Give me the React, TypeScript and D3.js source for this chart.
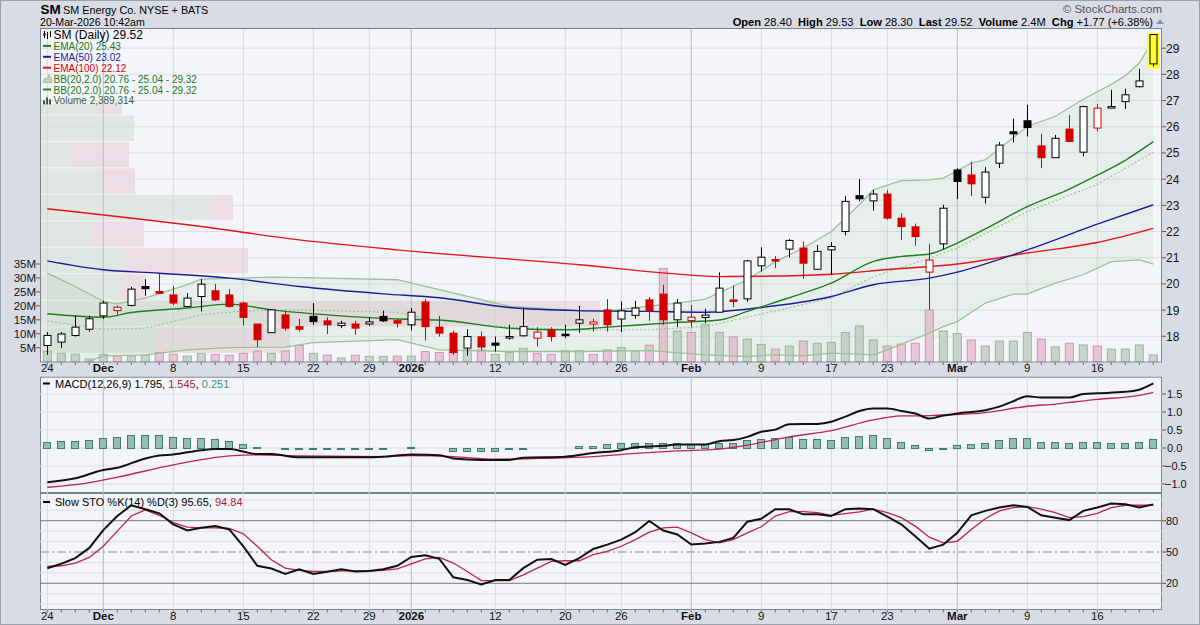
import { useEffect, useRef } from 'react';
import * as d3 from 'd3';

// Trading sessions Nov 24 2025 .. Mar 20 2026, indexed 0..79
const dateTicks = [
  { i: 0, label: '24', month: false },
  { i: 4, label: 'Dec', month: true },
  { i: 9, label: '8', month: false },
  { i: 14, label: '15', month: false },
  { i: 19, label: '22', month: false },
  { i: 23, label: '29', month: false },
  { i: 26, label: '2026', month: true },
  { i: 32, label: '12', month: false },
  { i: 37, label: '20', month: false },
  { i: 41, label: '26', month: false },
  { i: 46, label: 'Feb', month: true },
  { i: 51, label: '9', month: false },
  { i: 56, label: '17', month: false },
  { i: 60, label: '23', month: false },
  { i: 65, label: 'Mar', month: true },
  { i: 70, label: '9', month: false },
  { i: 75, label: '16', month: false },
];

const prevClose = 17.5;
const opens = [
  17.65, 17.78, 18.03, 18.27, 18.78, 18.98, 19.18, 19.9, 19.71, 19.58,
  19.14, 19.52, 19.74, 19.58, 19.27, 18.47, 18.14, 18.82, 18.37, 18.76,
  18.59, 18.41, 18.47, 18.47, 18.76, 18.6, 18.44, 19.31, 18.35, 18.12,
  17.55, 17.98, 17.74, 17.95, 18.02, 17.93, 18.25, 18.08, 18.5, 18.47,
  19.01, 18.66, 18.8, 19.39, 19.61, 18.63, 18.6, 18.72, 18.92, 19.39,
  19.43, 20.69, 20.93, 21.33, 21.37, 20.56, 21.3, 22.0, 23.37, 23.17,
  23.43, 22.51, 22.18, 20.45, 21.53, 24.35, 24.16, 23.31, 24.61, 25.81,
  26.23, 25.27, 24.82, 25.91, 25.03, 25.95, 26.72, 26.96, 27.53, 28.4,
];
const highs = [
  18.16, 18.16, 18.78, 18.79, 19.36, 19.17, 19.89, 20.18, 20.41, 19.93,
  19.65, 20.18, 20.0, 19.8, 19.33, 18.47, 19.01, 18.95, 18.67, 19.27,
  18.73, 18.59, 18.59, 18.72, 18.98, 18.66, 19.08, 19.42, 18.78, 18.22,
  18.27, 18.18, 17.99, 18.44, 19.1, 18.35, 18.35, 18.44, 19.16, 18.67,
  19.42, 19.33, 19.36, 19.5, 19.97, 19.42, 19.2, 19.05, 20.44, 19.93,
  20.92, 21.4, 21.07, 21.71, 21.62, 21.49, 21.6, 23.36, 24.0, 23.59,
  23.59, 22.7, 22.3, 21.53, 23.02, 24.42, 24.67, 24.46, 25.42, 26.31,
  26.84, 25.73, 25.69, 26.45, 26.8, 26.87, 27.41, 27.45, 28.21, 29.53,
];
const lows = [
  17.29, 17.55, 17.99, 18.18, 18.66, 18.82, 19.14, 19.55, 19.62, 19.18,
  19.1, 18.95, 19.35, 19.1, 18.41, 17.59, 18.14, 18.22, 18.18, 18.44,
  18.09, 18.31, 18.06, 18.4, 18.55, 18.34, 18.22, 17.84, 17.99, 17.29,
  17.26, 17.45, 17.42, 17.87, 17.99, 17.61, 17.8, 17.93, 18.14, 18.18,
  18.18, 18.16, 18.67, 18.59, 18.44, 18.35, 18.35, 18.5, 18.92, 19.11,
  19.32, 20.47, 20.6, 21.01, 20.19, 20.54, 20.35, 21.85, 23.15, 22.8,
  22.45, 21.68, 21.46, 19.01, 21.33, 23.24, 23.36, 23.07, 24.42, 25.4,
  25.63, 24.42, 24.82, 25.44, 24.87, 25.82, 26.72, 26.68, 27.5, 28.3,
];
const closes = [
  18.03, 18.09, 18.35, 18.67, 19.27, 19.11, 19.8, 19.82, 19.64, 19.27,
  19.46, 19.99, 19.39, 19.14, 18.72, 17.87, 19.01, 18.31, 18.27, 18.56,
  18.44, 18.5, 18.31, 18.55, 18.59, 18.5, 18.92, 18.37, 18.12, 17.38,
  17.99, 17.59, 17.66, 17.99, 18.37, 18.16, 17.99, 18.04, 18.63, 18.55,
  18.44, 18.97, 19.08, 18.97, 18.63, 19.27, 18.73, 18.81, 19.84, 19.33,
  20.88, 21.02, 20.9, 21.66, 20.79, 21.24, 21.43, 23.15, 23.25, 23.43,
  22.51, 22.19, 21.81, 20.91, 22.89, 23.91, 23.82, 24.27, 25.3, 25.73,
  25.97, 24.82, 25.56, 25.44, 26.77, 26.71, 26.77, 27.22, 27.75, 29.52,
];
// volume in millions
const volumes = [
  3.8, 3.0, 2.7, 1.0, 2.6, 2.0, 2.0, 2.3, 3.3, 2.7,
  2.0, 3.0, 2.6, 2.3, 3.0, 3.8, 3.0, 3.8, 5.8, 3.0,
  2.3, 1.3, 2.3, 1.9, 1.9, 2.0, 2.0, 3.6, 3.3, 4.5,
  4.2, 4.2, 2.6, 3.3, 4.8, 3.0, 2.6, 3.9, 3.9, 2.6,
  4.2, 5.1, 3.8, 5.9, 33.4, 11.0, 10.5, 13.4, 10.5, 8.9,
  8.1, 6.2, 4.5, 5.6, 7.4, 6.6, 6.9, 10.5, 12.8, 7.8,
  5.6, 6.3, 6.6, 18.5, 11.0, 10.1, 7.8, 5.6, 7.4, 7.4,
  10.5, 8.1, 5.3, 6.6, 6.0, 5.6, 4.5, 4.5, 6.0, 2.39,
];

// Volume-by-price zones (price edges), up / down volume in millions
const vbpEdges = [17.35, 18.36, 19.37, 20.39, 21.4, 22.41, 23.42, 24.43, 25.44, 26.45, 27.46];
const vbpUp = [11.6, 21.9, 8.1, 8.5, 5.2, 17.0, 6.4, 2.9, 9.4, 6.0];
const vbpDown = [13.4, 34.1, 2.5, 12.3, 5.2, 2.3, 3.1, 6.0, 0, 2.2];

// Overlays: [session index, value]
const ema20 = [[0, 18.86], [4, 18.73], [6, 18.91], [10, 19.08], [13, 19.23], [16, 19.01], [20, 18.82], [25, 18.66], [28, 18.62], [33, 18.31], [37, 18.25], [40, 18.35], [45, 18.53], [48, 18.62], [50, 18.95], [52, 19.3], [54, 19.65], [56, 20.03], [59, 20.86], [61, 21.05], [63, 21.14], [65, 21.56], [67, 22.1], [70, 22.95], [73, 23.62], [75, 24.15], [77, 24.72], [79, 25.43]];
const ema50 = [[0, 20.88], [4, 20.54], [8, 20.41], [13, 20.22], [18, 19.9], [24, 19.62], [28, 19.47], [33, 19.1], [38, 18.98], [43, 18.95], [47, 18.92], [51, 19.1], [56, 19.52], [59, 19.97], [63, 20.22], [65, 20.45], [70, 21.3], [75, 22.28], [79, 23.02]];
const ema100 = [[0, 22.87], [11, 22.19], [18, 21.68], [25, 21.3], [38, 20.73], [44, 20.42], [48, 20.28], [52, 20.3], [56, 20.37], [60, 20.55], [65, 20.76], [70, 21.18], [75, 21.58], [79, 22.12]];
const bbUpper = [[0, 20.41], [2, 19.9], [4, 19.33], [5, 19.24], [7, 19.46], [10, 19.97], [11, 20.18], [16, 20.26], [20, 20.22], [25, 20.16], [28, 19.78], [33, 19.14], [38, 18.97], [40, 18.97], [45, 19.27], [47, 19.42], [50, 20.16], [52, 20.85], [54, 21.37], [56, 22.0], [58, 23.02], [59, 23.59], [61, 23.94], [63, 23.97], [64, 24.04], [66, 24.61], [67, 24.74], [70, 26.01], [72, 26.4], [74, 27.05], [76, 27.62], [77, 27.95], [78, 28.43], [79, 29.32]];
const bbMiddle = [[0, 18.59], [4, 18.27], [7, 18.31], [11, 18.82], [14, 18.97], [18, 19.01], [25, 18.91], [28, 18.6], [33, 18.35], [38, 18.25], [43, 18.25], [47, 18.37], [51, 18.85], [56, 19.46], [59, 20.28], [63, 20.98], [65, 21.37], [70, 22.76], [75, 23.8], [79, 25.04]];
const bbLower = [[0, 16.77], [2, 16.7], [3, 17.05], [4, 17.25], [7, 17.29], [10, 17.48], [13, 17.57], [17, 17.59], [19, 17.76], [25, 17.87], [28, 17.48], [33, 17.42], [38, 17.42], [43, 17.45], [47, 17.29], [50, 17.23], [52, 17.29], [54, 17.25], [56, 17.36], [59, 17.29], [60, 17.48], [63, 18.12], [64, 18.37], [65, 18.56], [67, 19.27], [69, 19.61], [70, 19.61], [72, 20.03], [74, 20.35], [76, 20.85], [78, 20.92], [79, 20.76]];

const macdLine = [[0, -0.95], [2, -0.84], [4, -0.61], [5, -0.55], [7, -0.29], [8, -0.21], [9, -0.18], [11, -0.06], [12, -0.03], [13, -0.03], [14, -0.1], [15, -0.17], [16, -0.17], [18, -0.26], [23, -0.26], [25, -0.21], [26, -0.18], [28, -0.2], [29, -0.29], [31, -0.33], [33, -0.33], [34, -0.27], [37, -0.24], [39, -0.14], [41, -0.06], [42, 0.02], [44, 0.06], [45, 0.1], [47, 0.1], [48, 0.19], [49, 0.22], [50, 0.31], [51, 0.45], [52, 0.51], [53, 0.66], [55, 0.67], [56, 0.73], [57, 0.87], [58, 1.03], [59, 1.1], [60, 1.1], [61, 1.03], [62, 0.96], [63, 0.82], [64, 0.9], [65, 0.96], [67, 1.05], [68, 1.15], [69, 1.3], [70, 1.44], [71, 1.4], [73, 1.4], [74, 1.5], [75, 1.52], [77, 1.56], [78, 1.62], [79, 1.795]];
const macdSignal = [[0, -1.09], [2, -1.02], [3, -0.96], [5, -0.81], [9, -0.47], [13, -0.22], [15, -0.19], [18, -0.22], [24, -0.24], [26, -0.21], [29, -0.24], [32, -0.31], [35, -0.29], [39, -0.24], [42, -0.15], [45, -0.08], [48, -0.03], [50, 0.08], [53, 0.31], [56, 0.48], [59, 0.78], [61, 0.89], [63, 0.9], [67, 0.98], [70, 1.16], [72, 1.22], [75, 1.35], [78, 1.46], [79, 1.545]];
const macdHist = [
  0.16, 0.19, 0.19, 0.22, 0.27, 0.3, 0.35, 0.35, 0.35, 0.3,
  0.27, 0.27, 0.24, 0.19, 0.1, 0.02, -0.01, -0.02, -0.04, -0.04,
  -0.04, -0.04, -0.04, -0.02, -0.02, -0.01, 0.02, 0.01, -0.01, -0.07,
  -0.07, -0.07, -0.07, -0.04, -0.02, -0.01, -0.01, 0.01, 0.06, 0.06,
  0.1, 0.13, 0.13, 0.13, 0.13, 0.13, 0.1, 0.1, 0.13, 0.13,
  0.21, 0.24, 0.27, 0.3, 0.24, 0.24, 0.21, 0.3, 0.32, 0.35,
  0.27, 0.18, 0.07, -0.06, -0.02, 0.07, 0.1, 0.13, 0.21, 0.27,
  0.27, 0.18, 0.18, 0.13, 0.16, 0.16, 0.13, 0.13, 0.16, 0.251,
];

const stoK = [
  34.5, 38.7, 44.2, 53.9, 71.0, 84.5, 94.8, 91.0, 87.1, 76.5,
  70.6, 73.2, 74.8, 71.6, 55.5, 36.8, 34.2, 29.0, 33.5, 29.0,
  31.0, 33.5, 31.3, 31.9, 33.5, 36.8, 45.2, 46.8, 43.5, 25.8,
  23.2, 19.0, 23.2, 23.2, 34.5, 42.6, 43.2, 37.7, 44.2, 52.9,
  57.1, 61.9, 69.0, 79.7, 70.6, 66.8, 57.1, 58.1, 59.7, 63.5,
  79.0, 81.9, 91.0, 91.0, 86.1, 86.1, 84.5, 91.0, 91.6, 91.0,
  83.9, 76.5, 65.2, 53.2, 57.1, 68.4, 85.2, 89.4, 92.6, 94.8,
  93.2, 85.2, 82.9, 80.6, 89.4, 92.6, 96.5, 95.8, 92.6, 95.65,
];
const stoD = [
  36.1, 36.8, 39.4, 44.8, 55.5, 70.0, 84.5, 90.3, 85.2, 78.1,
  73.9, 73.2, 73.2, 72.6, 67.4, 55.5, 42.6, 34.5, 32.3, 31.3,
  31.3, 31.9, 31.9, 31.9, 32.3, 33.9, 38.7, 43.5, 44.8, 39.4,
  31.3, 22.6, 22.6, 22.6, 28.1, 34.5, 41.0, 41.6, 41.6, 47.4,
  50.6, 55.5, 61.9, 69.0, 73.2, 73.9, 68.4, 61.9, 58.7, 61.9,
  68.4, 74.2, 84.5, 88.7, 88.7, 87.7, 85.2, 86.8, 88.4, 91.0,
  87.7, 82.9, 74.8, 64.2, 58.7, 60.3, 71.6, 81.9, 89.4, 92.6,
  93.5, 91.0, 87.7, 82.9, 83.9, 87.1, 92.6, 94.8, 94.8, 94.84,
];

const headerStats = [
  ['Open', '28.40'], ['High', '29.53'], ['Low', '28.30'],
  ['Last', '29.52'], ['Volume', '2.4M'], ['Chg', '+1.77 (+6.38%)'],
];

const W = 1200;
const H = 625;
const L = 40;
const R = 1162;
const P = { top: 28, bottom: 362.5 };
const M = { top: 376.7, bottom: 493 };
const S = { top: 493, bottom: 610 };

const App = () => {
  const svgRef = useRef<SVGSVGElement>(null);

  useEffect(() => {
    if (!svgRef.current) return;
    const svg = d3.select(svgRef.current);
    svg.selectAll('*').remove();
    svg.attr('font-family', '"Liberation Sans", Arial, Helvetica, sans-serif');

    const xS = d3.scaleLinear().domain([0, 79]).range([47.3, 1153.3]);
    const yP = d3.scaleLinear().domain([17.0, 29.77]).range([P.bottom, P.top]);
    const yV = d3.scaleLinear().domain([0, 35]).range([361.7, 264]);
    const yM = d3.scaleLinear().domain([-1, 1.5]).range([484, 394]);
    const yS = d3.scaleLinear().domain([20, 80]).range([583.3, 520.7]);
    const xVbp = d3.scaleLinear().domain([0, 56]).range([L, 600]);

    // page + panels
    svg.append('rect').attr('width', W).attr('height', H).attr('fill', '#d9dce5');
    svg.append('rect').attr('x', 0.5).attr('y', 0.5).attr('width', W - 1).attr('height', H - 1)
      .attr('fill', 'none').attr('stroke', '#9ba1ac');
    [P, M, S].forEach(p => {
      svg.append('rect').attr('x', L).attr('y', p.top).attr('width', R - L)
        .attr('height', p.bottom - p.top).attr('fill', '#f4f5f9');
    });

    const defs = svg.append('defs');
    const clip = (id: string, p: { top: number; bottom: number }) => {
      defs.append('clipPath').attr('id', id).append('rect')
        .attr('x', L).attr('y', p.top).attr('width', R - L).attr('height', p.bottom - p.top);
    };
    clip('clipP', P);
    clip('clipM', M);
    clip('clipS', S);

    // ---------- price panel ----------
    const gp = svg.append('g').attr('clip-path', 'url(#clipP)');

    // volume by price
    vbpUp.forEach((up, k) => {
      const y0 = yP(vbpEdges[k + 1]) + 0.5;
      const h = yP(vbpEdges[k]) - yP(vbpEdges[k + 1]) - 1;
      gp.append('rect').attr('x', L).attr('y', y0).attr('width', xVbp(up) - L).attr('height', h)
        .attr('fill', '#e0e6e2');
      if (vbpDown[k] > 0) {
        gp.append('rect').attr('x', xVbp(up)).attr('y', y0)
          .attr('width', xVbp(up + vbpDown[k]) - xVbp(up)).attr('height', h).attr('fill', '#eddde5');
      }
    });
    // legend backdrop
    gp.append('rect').attr('x', L + 1).attr('y', P.top + 1).attr('width', 160).attr('height', 75)
      .attr('fill', '#f4f5f9');

    // grid
    d3.range(18, 30).forEach(v => {
      gp.append('line').attr('x1', L).attr('x2', R).attr('y1', yP(v)).attr('y2', yP(v))
        .attr('stroke', '#dcdfe5').attr('stroke-width', 1);
    });
    const vGrid = (g: any, p: { top: number; bottom: number }) => {
      dateTicks.forEach(t => {
        g.append('line').attr('x1', xS(t.i)).attr('x2', xS(t.i)).attr('y1', p.top).attr('y2', p.bottom)
          .attr('stroke', t.month ? '#b9bdc6' : '#d6d9df').attr('stroke-width', 1);
      });
    };
    vGrid(gp, P);

    // volume bars
    volumes.forEach((v, i) => {
      const up = closes[i] >= (i ? closes[i - 1] : prevClose);
      gp.append('rect').attr('x', xS(i) - 4).attr('y', yV(v)).attr('width', 8)
        .attr('height', yV(0) - yV(v))
        .attr('fill', up ? '#c3d2c5' : '#e6c2d0').attr('fill-opacity', 0.9)
        .attr('stroke', up ? '#9db59f' : '#d295ad').attr('stroke-width', 1);
    });

    // Bollinger band
    const toXY = (d: number[]) => [xS(d[0]), yP(d[1])] as [number, number];
    const poly = [...bbUpper.map(toXY), ...bbLower.slice().reverse().map(toXY)];
    gp.append('path').attr('d', d3.line()(poly) + 'Z').attr('fill', '#9cc49c').attr('fill-opacity', 0.13);
    const linP = d3.line<number[]>().x(d => xS(d[0])).y(d => yP(d[1]));
    [bbUpper, bbLower].forEach(s => {
      gp.append('path').attr('d', linP(s)).attr('fill', 'none').attr('stroke', '#96c296').attr('stroke-width', 1.3);
    });
    gp.append('path').attr('d', linP(bbMiddle)).attr('fill', 'none').attr('stroke', '#9cc59c')
      .attr('stroke-width', 1.2).attr('stroke-dasharray', '2,2');

    const smoothP = d3.line<number[]>().x(d => xS(d[0])).y(d => yP(d[1])).curve(d3.curveMonotoneX);
    [[ema100, '#e3141b'], [ema50, '#1c1c96'], [ema20, '#1f7f1f']].forEach(([s, c]: any) => {
      gp.append('path').attr('d', smoothP(s)).attr('fill', 'none').attr('stroke', c).attr('stroke-width', 1.4);
    });

    // highlight on last bar
    const last = closes.length - 1;
    gp.append('rect').attr('x', xS(last) - 6.3).attr('y', yP(highs[last]) - 1.5).attr('width', 12.6)
      .attr('height', yP(lows[last]) - yP(highs[last]) + 3.5).attr('fill', '#ffff33');

    // candles
    closes.forEach((c, i) => {
      const o = opens[i];
      const pc = i ? closes[i - 1] : prevClose;
      const col = c >= pc ? '#000000' : '#d40000';
      const hollow = c > o;
      const x = Math.round(xS(i)) + 0.5;
      gp.append('line').attr('x1', x).attr('x2', x).attr('y1', yP(highs[i])).attr('y2', yP(lows[i]))
        .attr('stroke', col).attr('stroke-width', 1);
      const top = yP(Math.max(o, c));
      const bh = Math.max(yP(Math.min(o, c)) - top, 1.5);
      if (hollow) {
        gp.append('rect').attr('x', x - 3.5).attr('y', top).attr('width', 7).attr('height', bh)
          .attr('fill', i === last ? '#ffff33' : '#ffffff').attr('stroke', col).attr('stroke-width', 1);
      } else {
        gp.append('rect').attr('x', x - 4).attr('y', top - 0.5).attr('width', 8).attr('height', bh + 1)
          .attr('fill', col);
      }
    });

    // panel borders
    [P, M, S].forEach(p => {
      svg.append('rect').attr('x', L + 0.5).attr('y', p.top + 0.5).attr('width', R - L - 1)
        .attr('height', p.bottom - p.top - 1).attr('fill', 'none').attr('stroke', '#7d838e');
    });

    // price axis (right)
    d3.range(18, 30).forEach(v => {
      svg.append('line').attr('x1', R).attr('x2', R + 4).attr('y1', yP(v)).attr('y2', yP(v)).attr('stroke', '#555');
      svg.append('text').attr('x', R + 4).attr('y', yP(v) + 4.5).attr('font-size', 12).attr('fill', '#111').text(v);
    });
    // volume axis (left)
    d3.range(5, 40, 5).forEach(v => {
      svg.append('line').attr('x1', L - 4).attr('x2', L).attr('y1', yV(v)).attr('y2', yV(v)).attr('stroke', '#555');
      svg.append('text').attr('x', L - 4).attr('y', yV(v) + 4).attr('text-anchor', 'end')
        .attr('font-size', 11.5).attr('fill', '#111').text(`${v}M`);
    });

    // legend
    const lg = svg.append('g');
    const legendRows = [
      { text: 'SM (Daily) 29.52', color: '#000', icon: 'candle' },
      { text: 'EMA(20) 25.43', color: '#1a7a1a', icon: 'line', lc: '#1f7f1f' },
      { text: 'EMA(50) 23.02', color: '#1c1c96', icon: 'line', lc: '#1c1c96' },
      { text: 'EMA(100) 22.12', color: '#e00000', icon: 'line', lc: '#e3141b' },
      { text: 'BB(20,2.0) 20.76 - 25.04 - 29.32', color: '#1a7a1a', icon: 'area' },
      { text: 'BB(20,2.0) 20.76 - 25.04 - 29.32', color: '#1a7a1a', icon: 'line', lc: '#1f7f1f' },
      { text: 'Volume 2,389,314', color: '#3a5c42', icon: 'vol' },
    ];
    legendRows.forEach((r, k) => {
      const cy = 35 + k * 10.9;
      if (r.icon === 'line') {
        lg.append('line').attr('x1', 43).attr('x2', 51).attr('y1', cy).attr('y2', cy).attr('stroke', r.lc).attr('stroke-width', 2);
      } else if (r.icon === 'candle') {
        lg.append('path').attr('d', `M44.5,${cy - 4}V${cy + 3}M47.5,${cy - 3}V${cy + 4}M50.5,${cy - 4}V${cy + 2}`).attr('stroke', '#000');
        lg.append('rect').attr('x', 43.5).attr('y', cy - 2).attr('width', 2).attr('height', 3).attr('fill', '#000');
      } else if (r.icon === 'area') {
        lg.append('path').attr('d', `M43,${cy + 4}L45,${cy - 1}L47,${cy + 1}L49,${cy - 4}L52,${cy + 1}L52,${cy + 4}Z`)
          .attr('fill', '#b7d3b7').attr('stroke', '#9cc49c');
      } else {
        [[43, 4], [46, 7], [49, 5]].forEach(([bx, bh]) => {
          lg.append('rect').attr('x', bx).attr('y', cy + 4 - bh).attr('width', 2).attr('height', bh).attr('fill', '#3a5c42');
        });
      }
      lg.append('text').attr('x', 53.5).attr('y', cy + 4).attr('fill', r.color)
        .attr('font-size', k === 0 ? 12 : 10).text(r.text);
    });

    // ---------- MACD panel ----------
    const gm = svg.append('g').attr('clip-path', 'url(#clipM)');
    [-1, -0.5, 0, 0.5, 1, 1.5].forEach(v => {
      gm.append('line').attr('x1', L).attr('x2', R).attr('y1', yM(v)).attr('y2', yM(v)).attr('stroke', '#dcdfe5');
    });
    vGrid(gm, M);
    macdHist.forEach((h, i) => {
      const y0 = yM(Math.max(h, 0));
      gm.append('rect').attr('x', Math.round(xS(i)) - 3.5).attr('y', Math.round(y0) + 0.5).attr('width', 7)
        .attr('height', Math.round(Math.abs(yM(h) - yM(0))))
        .attr('fill', '#94bdb1').attr('stroke', '#3f7e6d').attr('stroke-width', 1);
    });
    const lineM = d3.line<number[]>().x(d => xS(d[0])).y(d => yM(d[1])).curve(d3.curveMonotoneX);
    gm.append('path').attr('d', lineM(macdSignal)).attr('fill', 'none').attr('stroke', '#c0234f').attr('stroke-width', 1.3);
    gm.append('path').attr('d', lineM(macdLine)).attr('fill', 'none').attr('stroke', '#111').attr('stroke-width', 2);
    [-1, -0.5, 0, 0.5, 1, 1.5].forEach(v => {
      svg.append('line').attr('x1', R).attr('x2', R + 4).attr('y1', yM(v)).attr('y2', yM(v)).attr('stroke', '#555');
      svg.append('text').attr('x', R + (v < 0 ? 3 : 5)).attr('y', yM(v) + 4).attr('font-size', 11)
        .attr('fill', '#111').text(d3.format('.1f')(v));
    });
    svg.append('line').attr('x1', 43).attr('x2', 50).attr('y1', 383.5).attr('y2', 383.5).attr('stroke', '#000').attr('stroke-width', 2);
    const mt = svg.append('text').attr('x', 55).attr('y', 387.5).attr('font-size', 11);
    mt.append('tspan').attr('fill', '#000').text('MACD(12,26,9) 1.795');
    mt.append('tspan').attr('fill', '#000').text(', ');
    mt.append('tspan').attr('fill', '#b0173f').text('1.545');
    mt.append('tspan').attr('fill', '#000').text(', ');
    mt.append('tspan').attr('fill', '#3f8a78').text('0.251');

    // ---------- Slow STO panel ----------
    const gs = svg.append('g').attr('clip-path', 'url(#clipS)');
    [0, 10, 30, 40, 60, 70, 90, 100].forEach(v => {
      gs.append('line').attr('x1', L).attr('x2', R).attr('y1', yS(v)).attr('y2', yS(v)).attr('stroke', '#dcdfe5');
    });
    vGrid(gs, S);
    [20, 80].forEach(v => {
      gs.append('line').attr('x1', L).attr('x2', R).attr('y1', yS(v)).attr('y2', yS(v)).attr('stroke', '#7a7a7a');
    });
    gs.append('line').attr('x1', L).attr('x2', R).attr('y1', yS(50)).attr('y2', yS(50))
      .attr('stroke', '#8a8a8a').attr('stroke-dasharray', '9,3,2,3');
    const lineS = d3.line<number>().x((_, i) => xS(i)).y(d => yS(d));
    gs.append('path').attr('d', lineS(stoD)).attr('fill', 'none').attr('stroke', '#c0234f').attr('stroke-width', 1.3);
    gs.append('path').attr('d', lineS(stoK)).attr('fill', 'none').attr('stroke', '#111').attr('stroke-width', 2);
    [20, 50, 80].forEach(v => {
      svg.append('line').attr('x1', R).attr('x2', R + 4).attr('y1', yS(v)).attr('y2', yS(v)).attr('stroke', '#555');
      svg.append('text').attr('x', R + 4).attr('y', yS(v) + 4).attr('font-size', 11).attr('fill', '#111').text(v);
    });
    svg.append('line').attr('x1', 43).attr('x2', 50).attr('y1', 502).attr('y2', 502).attr('stroke', '#000').attr('stroke-width', 2);
    const st = svg.append('text').attr('x', 55).attr('y', 506).attr('font-size', 11);
    st.append('tspan').attr('fill', '#000').text('Slow STO %K(14) %D(3) 95.65, ');
    st.append('tspan').attr('fill', '#b0173f').text('94.84');

    // ---------- date axes ----------
    [P.bottom, S.bottom].forEach(yb => {
      closes.forEach((_, i) => {
        svg.append('line').attr('x1', xS(i)).attr('x2', xS(i)).attr('y1', yb).attr('y2', yb + 2.5).attr('stroke', '#666');
      });
      dateTicks.forEach(t => {
        svg.append('text').attr('x', xS(t.i)).attr('y', yb + 9.5).attr('text-anchor', 'middle')
          .attr('font-size', 11.5).attr('font-weight', t.month ? 'bold' : 'normal').attr('fill', '#111').text(t.label);
      });
    });

    // ---------- header ----------
    svg.append('text').attr('x', 40.5).attr('y', 14).attr('font-size', 13.5).attr('font-weight', 'bold').text('SM');
    svg.append('text').attr('x', 63).attr('y', 14).attr('font-size', 10.8).text('SM Energy Co. NYSE + BATS');
    svg.append('text').attr('x', 40).attr('y', 26).attr('font-size', 10.6).text('20-Mar-2026 10:42am');
    svg.append('text').attr('x', 1162).attr('y', 13).attr('text-anchor', 'end').attr('font-size', 11.5)
      .attr('fill', '#555').text('© StockCharts.com');
    const hs = svg.append('text').attr('x', 1153).attr('y', 26).attr('text-anchor', 'end')
      .attr('font-size', 11.1).style('white-space', 'pre');
    headerStats.forEach(([k, v], n) => {
      hs.append('tspan').attr('font-weight', 'bold').text((n ? '  ' : '') + k);
      hs.append('tspan').text(' ' + v);
    });
    svg.append('path').attr('d', 'M1156,24L1160,19.5L1164,24Z').attr('fill', '#8a909a');
  }, []);

  return (
    <svg
      ref={svgRef}
      width={W}
      height={H}
      style={{ position: 'absolute', left: 0, top: 0, display: 'block' }}
    />
  );
};

export default App;
